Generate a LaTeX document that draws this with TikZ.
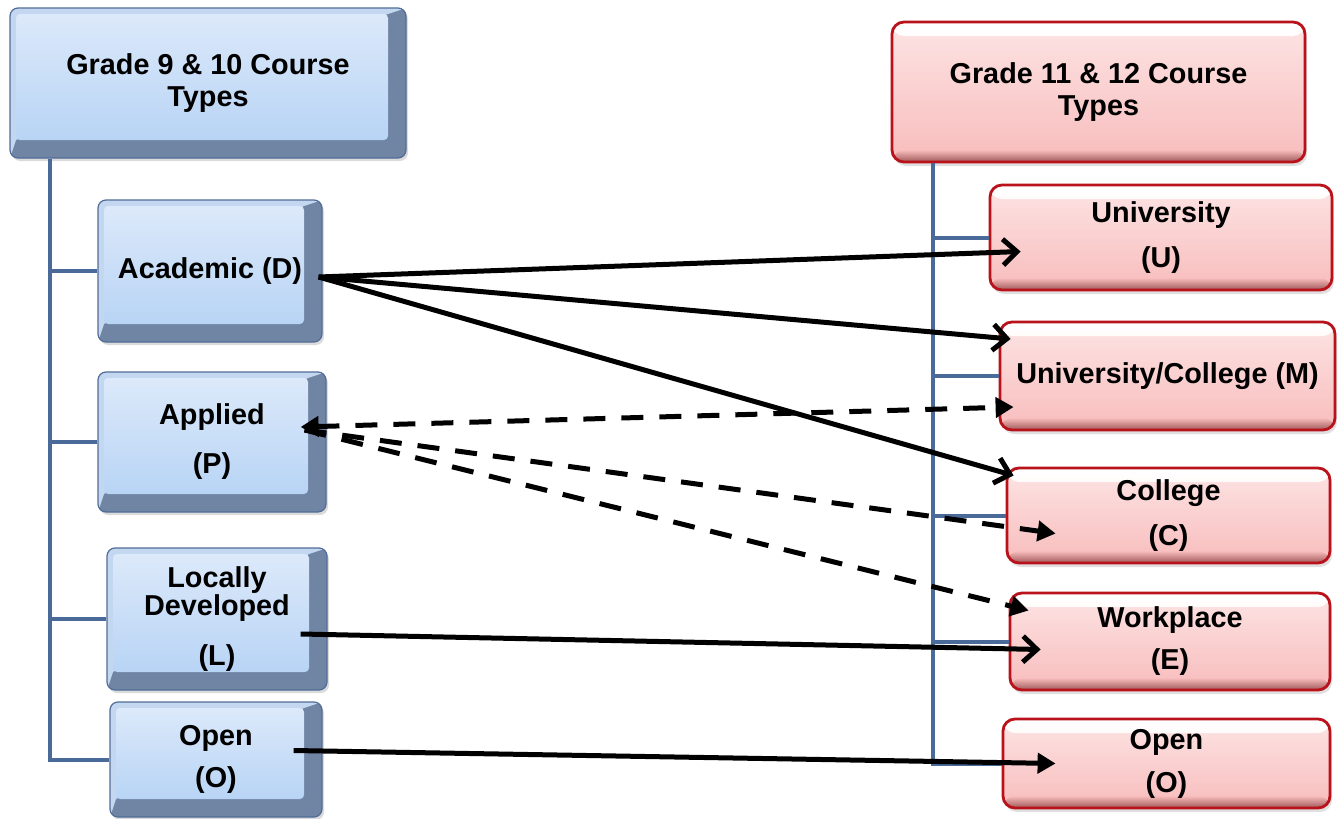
\documentclass[tikz,border=0pt]{standalone}
\usepackage{fontspec}
\setmainfont{Liberation Sans}
\usetikzlibrary{arrows.meta, shadows}

\begin{document}
\begin{tikzpicture}[x=0.5pt, y=-0.5pt,
font=\fontsize{14.4}{16}\selectfont\bfseries,
bluebox/.style={draw=blueedge, line width=0.6pt, fill=bluebevel, rounded corners=4pt, align=center, inner sep=0pt,
  drop shadow={shadow xshift=1pt, shadow yshift=-1.5pt, fill=black!40, opacity=0.35},
  path picture={
    \fill[bluelight, sharp corners] (path picture bounding box.north west) -- (path picture bounding box.north east)
      -- ([xshift=-9pt,yshift=-3pt]path picture bounding box.north east)
      -- ([xshift=3pt,yshift=9pt]path picture bounding box.south west)
      -- (path picture bounding box.south west) -- cycle;
    \shade[top color=bluetop, bottom color=bluebot, rounded corners=2pt]
      ([xshift=3pt,yshift=-3pt]path picture bounding box.north west)
      rectangle ([xshift=-9pt,yshift=9pt]path picture bounding box.south east);
  }},
redbox/.style={draw=rededge, line width=1.4pt, rounded corners=6pt, top color=redtop, bottom color=redbot,
  align=center, inner sep=0pt,
  drop shadow={shadow xshift=1pt, shadow yshift=-2pt, fill=black!40, opacity=0.3},
  path picture={
    \shade[top color=white, bottom color=redtop]
      (path picture bounding box.north west) rectangle ([yshift=-7pt]path picture bounding box.north east);
    \shade[top color=redbot, bottom color=reddark]
      ([yshift=6pt]path picture bounding box.south west) rectangle (path picture bounding box.south east);
  }},
link/.style={draw=linkblue, line width=2pt},
arrow/.style={line width=2.5pt, -{Straight Barb[length=7pt, width=13pt]}},
tiparrow/.style={line width=2.5pt, -{Triangle[length=9pt, width=10pt]}},
dasharrow/.style={line width=2.5pt, dash pattern=on 11pt off 8pt, -{Triangle[length=9pt, width=10pt]}} ]

% Define colors
\definecolor{bluetop}{RGB}{220, 233, 250}
\definecolor{bluebot}{RGB}{184, 212, 245}
\definecolor{bluelight}{RGB}{196, 215, 240}
\definecolor{bluebevel}{RGB}{112, 132, 164}
\definecolor{blueedge}{RGB}{80, 108, 150}
\definecolor{linkblue}{RGB}{74, 107, 154}
\definecolor{redtop}{RGB}{253, 228, 228}
\definecolor{redbot}{RGB}{248, 188, 188}
\definecolor{reddark}{RGB}{160, 88, 88}
\definecolor{rededge}{RGB}{185, 18, 26}

\useasboundingbox (0,0) rectangle (1341,819);

% Grade 9 & 10
\node[bluebox, minimum width=198pt, minimum height=75pt] (g910) at (208,83) {Grade 9 \& 10 Course\\Types};
\node[bluebox, minimum width=112pt, minimum height=71pt] (acad) at (210,271) {Academic (D)};
\node[bluebox, minimum width=114pt, minimum height=70pt] (appl) at (212,442) {Applied\\[8.5pt](P)};
\node[bluebox, minimum width=110pt, minimum height=71pt] (local) at (217,619) {Locally\\[-2pt]Developed\\[9pt](L)};
\node[bluebox, minimum width=106pt, minimum height=57.5pt] (openl) at (216,759.5) {Open\\[5pt](O)};

% Grade 11 & 12
\node[redbox, minimum width=206.5pt, minimum height=70pt] (g1112) at (1098.5,92) {Grade 11 \& 12 Course\\Types};
\node[redbox, minimum width=171pt, minimum height=52.5pt] (univ) at (1161,237.5) {University\\[6.5pt](U)};
\node[redbox, minimum width=167.5pt, minimum height=54pt] (unicol) at (1167.5,376) {University/College (M)};
\node[redbox, minimum width=161.5pt, minimum height=47.5pt] (coll) at (1168.5,515.5) {College\\[6.5pt](C)};
\node[redbox, minimum width=160pt, minimum height=48.5pt] (work) at (1170,641.5) {Workplace\\[5pt](E)};
\node[redbox, minimum width=163.5pt, minimum height=44.5pt] (openr) at (1166.5,763.5) {Open\\[5.5pt](O)};

% Tree lines
\coordinate (ltop) at ([xshift=-79pt]g910.south);
\coordinate (rtop) at ([xshift=-82.75pt]g1112.south);
\draw[link] (ltop) |- (openl.west);
\foreach \n in {acad, appl, local}
  \draw[link] (ltop |- \n.west) -- (\n.west);
\draw[link] (rtop) |- (openr.west);
\foreach \n in {univ, unicol, coll, work}
  \draw[link] (rtop |- \n.west) -- (\n.west);

% Arrows
\draw[arrow] ([xshift=-2pt,yshift=-3pt]acad.east) -- ([xshift=16pt,yshift=-7pt]univ.west);
\draw[arrow] ([xshift=-2pt,yshift=-3pt]acad.east) -- ([xshift=6pt,yshift=18.5pt]unicol.west);
\draw[arrow] ([xshift=-2pt,yshift=-3pt]acad.east) -- ([xshift=4pt,yshift=20pt]coll.west);
\draw[dasharrow, {Triangle[length=9pt, width=10pt]}-{Triangle[length=9pt, width=10pt]}]
  ([xshift=-13pt,yshift=7.5pt]appl.east) -- ([xshift=7.5pt,yshift=-15.5pt]unicol.west);
\draw[dasharrow] ([xshift=-11pt,yshift=6pt]appl.east) -- ([xshift=25pt,yshift=-9pt]coll.west);
\draw[dasharrow] ([xshift=-11pt,yshift=6pt]appl.east) -- ([xshift=10pt,yshift=15.5pt]work.west);
\draw[arrow] ([xshift=-13.5pt,yshift=-7.5pt]local.east) -- ([xshift=16pt,yshift=-4pt]work.west);
\draw[tiparrow] ([xshift=-14.5pt,yshift=4.5pt]openl.east) -- ([xshift=27pt]openr.west);

\end{tikzpicture}
\end{document}
